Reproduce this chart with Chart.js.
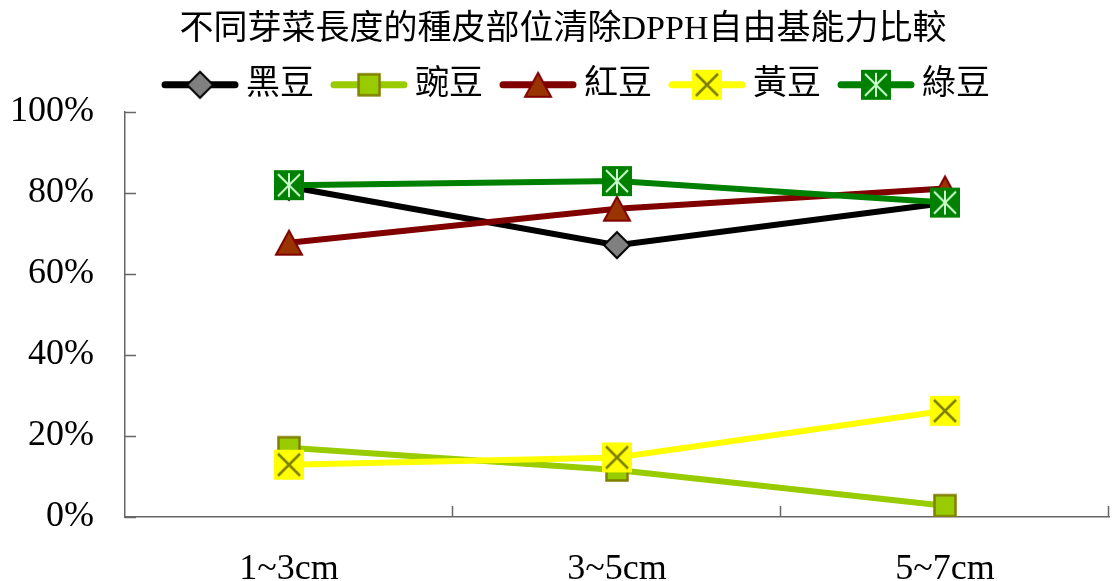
<!DOCTYPE html>
<html lang="zh-Hant">
<head>
    <meta charset="UTF-8">
    <title>不同芽菜長度的種皮部位清除DPPH自由基能力比較</title>
    <script src="https://cdn.jsdelivr.net/npm/chart.js"></script>
    <style>
        html, body { margin: 0; padding: 0; background: #fff; }
        #wrap { width: 1119px; height: 581px; }
    </style>
</head>
<body>
    <div id="wrap">
        <canvas id="myChart"></canvas>
    </div>
    <script>
        // data (percent)
        const categories = ['1~3cm', '3~5cm', '5~7cm'];
        const seriesNames = ['黑豆', '豌豆', '紅豆', '黃豆', '綠豆'];
        const blackBean = [81.5, 67.1, 77.5];
        const pea = [17.1, 11.6, 2.8];
        const redBean = [67.7, 76.1, 81.1];
        const soybean = [12.9, 14.7, 26.2];
        const mungBean = [81.9, 82.9, 77.6];
        const yTicks = [0, 20, 40, 60, 80, 100];

        const serif = "'Liberation Serif', 'Noto Sans CJK TC', serif";

        // marker images, drawn once on small canvases
        function makeMarker(kind) {
            const c = document.createElement('canvas');
            c.width = 32; c.height = 32;
            const g = c.getContext('2d');
            const m = 16;
            if (kind === 'diamond') {
                g.beginPath();
                g.moveTo(m, m - 13); g.lineTo(m + 13, m); g.lineTo(m, m + 13); g.lineTo(m - 13, m);
                g.closePath();
                g.fillStyle = '#808080'; g.fill();
                g.lineWidth = 2; g.strokeStyle = '#000'; g.stroke();
            } else if (kind === 'square') {
                g.fillStyle = '#99CC00';
                g.fillRect(m - 10.5, m - 10.5, 21, 21);
                g.lineWidth = 2.5; g.strokeStyle = '#808000';
                g.strokeRect(m - 10.5, m - 10.5, 21, 21);
            } else if (kind === 'triangle') {
                g.beginPath();
                g.moveTo(m, m - 12); g.lineTo(m + 13, m + 12); g.lineTo(m - 13, m + 12);
                g.closePath();
                g.fillStyle = '#993300'; g.fill();
                g.lineWidth = 2; g.strokeStyle = '#800000'; g.stroke();
            } else if (kind === 'cross') {
                g.fillStyle = '#FFFF00';
                g.fillRect(m - 15, m - 15, 30, 30);
                g.beginPath();
                g.moveTo(m - 11, m - 11); g.lineTo(m + 11, m + 11);
                g.moveTo(m + 11, m - 11); g.lineTo(m - 11, m + 11);
                g.lineWidth = 2.5; g.strokeStyle = '#808000'; g.stroke();
            } else if (kind === 'star') {
                g.fillStyle = '#008000';
                g.fillRect(m - 15, m - 15, 30, 30);
                g.beginPath();
                g.moveTo(m, m - 12); g.lineTo(m, m + 12);
                g.moveTo(m - 11, m - 11); g.lineTo(m + 11, m + 11);
                g.moveTo(m + 11, m - 11); g.lineTo(m - 11, m + 11);
                g.lineWidth = 2; g.strokeStyle = '#CCFFCC'; g.stroke();
            }
            return c;
        }

        const seriesData = [blackBean, pea, redBean, soybean, mungBean];
        const lineColors = ['#000000', '#99CC00', '#800000', '#FFFF00', '#008000'];
        const markers = ['diamond', 'square', 'triangle', 'cross', 'star'].map(makeMarker);

        const datasets = seriesNames.map((name, i) => ({
            label: name,
            data: seriesData[i],
            borderColor: lineColors[i],
            backgroundColor: lineColors[i],
            borderWidth: 6,
            pointStyle: markers[i],
            tension: 0,
            order: seriesNames.length - i // later series drawn on top
        }));

        // inward tick marks like the original
        const innerTicks = {
            id: 'innerTicks',
            afterDatasetsDraw(chart) {
                const {ctx, chartArea, scales} = chart;
                ctx.save();
                ctx.strokeStyle = '#666';
                ctx.lineWidth = 1.5;
                ctx.beginPath();
                yTicks.forEach(v => {
                    const y = Math.round(scales.y.getPixelForValue(v)) + 0.5;
                    ctx.moveTo(chartArea.left, y);
                    ctx.lineTo(chartArea.left + 11, y);
                });
                categories.forEach((c, i) => {
                    const x = Math.round(scales.x.getPixelForValue(i + 0.5)) - 0.5;
                    ctx.moveTo(x, chartArea.bottom);
                    ctx.lineTo(x, chartArea.bottom - 11);
                });
                ctx.stroke();
                ctx.restore();
            }
        };

        // title and legend sit a bit right of the plot centre in the original
        const shiftHeader = {
            id: 'shiftHeader',
            afterLayout(chart) {
                const t = chart.titleBlock, l = chart.legend;
                if (t) { t.left += 13; t.right += 13; }
                if (l) { l.left += 26; l.right += 26; }
            }
        };

        // legend symbol: line with marker on it
        const legendSymbols = {
            id: 'legendSymbols',
            afterDraw(chart) {
                const legend = chart.legend;
                if (!legend || !legend.legendHitBoxes) return;
                const {ctx} = chart;
                ctx.save();
                legend.legendItems.forEach((item, k) => {
                    const box = legend.legendHitBoxes[k];
                    const i = item.datasetIndex;
                    const y = box.top + box.height / 2;
                    ctx.strokeStyle = lineColors[i];
                    ctx.lineWidth = 7;
                    ctx.lineCap = 'round';
                    ctx.beginPath();
                    ctx.moveTo(box.left + 3, y);
                    ctx.lineTo(box.left + 73, y);
                    ctx.stroke();
                    const img = markers[i];
                    ctx.drawImage(img, box.left + 38 - img.width / 2, y - img.height / 2);
                });
                ctx.restore();
            }
        };

        const ctx = document.getElementById('myChart').getContext('2d');
        const myChart = new Chart(ctx, {
            type: 'line',
            data: {
                labels: categories,
                datasets: datasets
            },
            options: {
                responsive: true,
                maintainAspectRatio: false,
                animation: false,
                layout: {
                    padding: { left: -21, right: -2, top: 0, bottom: -42 }
                },
                plugins: {
                    tooltip: { enabled: false },
                    title: {
                        display: true,
                        text: '不同芽菜長度的種皮部位清除DPPH自由基能力比較',
                        color: '#000',
                        font: { family: serif, size: 34, weight: 'normal', lineHeight: 1.2 },
                        padding: { top: 10, bottom: 0 }
                    },
                    legend: {
                        display: true,
                        position: 'top',
                        labels: {
                            color: '#000',
                            font: { family: serif, size: 34, lineHeight: 1.2 },
                            boxWidth: 67,
                            boxHeight: 30,
                            padding: 17,
                            sort: (a, b) => a.datasetIndex - b.datasetIndex,
                            generateLabels(chart) {
                                const items = Chart.defaults.plugins.legend.labels.generateLabels(chart);
                                items.forEach(it => {
                                    it.fillStyle = 'rgba(0,0,0,0)';
                                    it.strokeStyle = 'rgba(0,0,0,0)';
                                    it.lineWidth = 0;
                                });
                                return items;
                            }
                        }
                    }
                },
                scales: {
                    x: {
                        offset: true,
                        grid: { display: false, drawTicks: false },
                        border: { display: true, color: '#666', width: 1.5 },
                        ticks: {
                            color: '#000',
                            padding: 35,
                            font: { family: serif, size: 36, lineHeight: 1 }
                        }
                    },
                    y: {
                        min: 0,
                        max: 100,
                        grid: { display: false, drawTicks: false },
                        border: { display: true, color: '#666', width: 1.5 },
                        afterBuildTicks: (scale) => {
                            scale.ticks = yTicks.map(v => ({ value: v }));
                        },
                        ticks: {
                            color: '#000',
                            padding: 31,
                            font: { family: serif, size: 36 },
                            callback: (value) => value + '%'
                        }
                    }
                }
            },
            plugins: [shiftHeader, innerTicks, legendSymbols]
        });
    </script>
</body>
</html>
